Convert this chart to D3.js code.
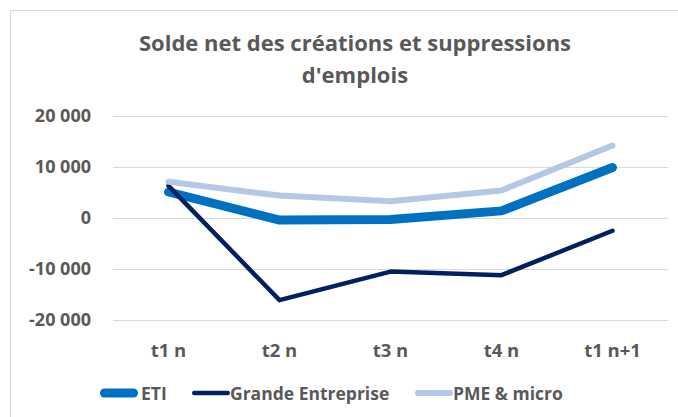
<!DOCTYPE html>
<html>
<head>
<meta charset="utf-8">
<script src="https://cdn.jsdelivr.net/npm/d3@7"></script>
<style>
  body { margin: 0; background: #fff; }
  text { font-family: "Open Sans", "Liberation Sans", sans-serif; font-weight: bold; fill: #595959; }
</style>
</head>
<body>
<div id="chart"></div>
<script>
const categories = ["t1 n", "t2 n", "t3 n", "t4 n", "t1 n+1"];
const etiValues = [5000, -500, -400, 1300, 9800];
const grandeValues = [6200, -16200, -10600, -11300, -2600];
const pmeValues = [7000, 4300, 3200, 5300, 14100];
const yTicks = [-20000, -10000, 0, 10000, 20000];
const chartTitle = ["Solde net des créations et suppressions", "d'emplois"];

const series = [
  { name: "ETI", values: etiValues, color: "#0070c0", width: 9 },
  { name: "Grande Entreprise", values: grandeValues, color: "#002060", width: 4.5 },
  { name: "PME & micro", values: pmeValues, color: "#b4c7e7", width: 6 }
];

const width = 678;
const height = 417;

const svg = d3.select("#chart")
  .append("svg")
  .attr("width", width)
  .attr("height", height);

// chart border (only top/left visible in the frame)
svg.append("rect")
  .attr("x", 10.5).attr("y", 10.5)
  .attr("width", 700).attr("height", 450)
  .attr("fill", "none")
  .attr("stroke", "#d9d9d9");

const title = svg.append("text")
  .attr("text-anchor", "middle")
  .style("font-size", "22px");
title.selectAll("tspan")
  .data(chartTitle)
  .enter()
  .append("tspan")
  .attr("x", 355)
  .attr("y", (d, i) => 51 + i * 32)
  .text((d) => d);

const x = d3.scaleBand()
  .domain(categories)
  .range([113, 668]);

const y = d3.scaleLinear()
  .domain([-20000, 20000])
  .range([319.5, 115.5]);

// "20 000" style labels with a plain hyphen for negatives
const fmt = (v) => (v < 0 ? "-" : "") + d3.format(",")(Math.abs(v)).replace(/,/g, " ");

// gridlines
svg.append("g")
  .selectAll("line")
  .data(yTicks)
  .enter()
  .append("line")
  .attr("x1", 113).attr("x2", 668)
  .attr("y1", (d) => Math.round(y(d)) + 0.5)
  .attr("y2", (d) => Math.round(y(d)) + 0.5)
  .attr("stroke", "#d9d9d9")
  .attr("stroke-width", 1);

// y axis labels
svg.append("g")
  .selectAll("text")
  .data(yTicks)
  .enter()
  .append("text")
  .attr("x", 91)
  .attr("y", (d) => y(d) + 6.5)
  .attr("text-anchor", "end")
  .style("font-size", "18px")
  .text((d) => fmt(d));

// x axis labels
svg.append("g")
  .selectAll("text")
  .data(categories)
  .enter()
  .append("text")
  .attr("x", (d) => x(d) + x.bandwidth() / 2)
  .attr("y", 357)
  .attr("text-anchor", "middle")
  .style("font-size", "18.5px")
  .text((d) => d);

const line = d3.line()
  .x((d, i) => x(categories[i]) + x.bandwidth() / 2)
  .y((d) => y(d));

svg.append("g")
  .selectAll("path")
  .data(series)
  .enter()
  .append("path")
  .attr("d", (d) => line(d.values))
  .attr("fill", "none")
  .attr("stroke", (d) => d.color)
  .attr("stroke-width", (d) => d.width)
  .attr("stroke-linecap", "round")
  .attr("stroke-linejoin", "round");

// legend
const legendX = [100, 192, 415];
const legend = svg.append("g");
const items = legend.selectAll("g")
  .data(series)
  .enter()
  .append("g")
  .attr("transform", (d, i) => `translate(${legendX[i]}, 393)`);
items.append("line")
  .attr("x1", (d) => d.width / 2)
  .attr("x2", (d) => 38 - d.width / 2)
  .attr("y1", 0).attr("y2", 0)
  .attr("stroke", (d) => d.color)
  .attr("stroke-width", (d) => d.width)
  .attr("stroke-linecap", "round");
items.append("text")
  .attr("x", (d, i) => (i === 0 ? 41 : 38))
  .attr("y", 7)
  .style("font-size", "17.5px")
  .text((d) => d.name);
</script>
</body>
</html>
